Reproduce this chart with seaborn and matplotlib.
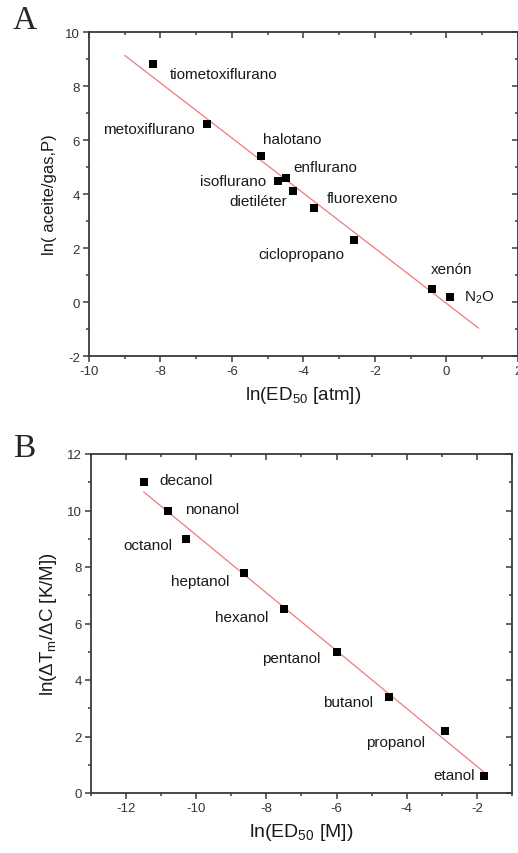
import numpy as np
import pandas as pd
import matplotlib
matplotlib.use("Agg")
import matplotlib.pyplot as plt
import seaborn as sns
from matplotlib.ticker import MultipleLocator

sns.set_theme(style="white")
plt.rcParams['font.family'] = ['Liberation Sans', 'DejaVu Sans']
plt.rcParams['mathtext.fontset'] = 'custom'
plt.rcParams['mathtext.rm'] = 'Liberation Sans'
plt.rcParams['mathtext.it'] = 'Liberation Sans'
plt.rcParams['axes.unicode_minus'] = False

# ---- Panel A data ----
a_names = ["tiometoxiflurano", "metoxiflurano", "halotano", "isoflurano", "enflurano",
           "dietiléter", "fluorexeno", "ciclopropano", "xenón", "N$_2$O"]
a_x = [-8.2, -6.7, -5.2, -4.7, -4.5, -4.3, -3.7, -2.6, -0.4, 0.1]
a_y = [8.8, 6.6, 5.4, 4.5, 4.6, 4.1, 3.5, 2.3, 0.5, 0.2]
a_fit_range = [-9.0, 0.9]
a_label_x = [-7.75, -7.05, -5.14, -5.05, -4.27, -4.47, -3.36, -5.27, -0.45, 0.48]
a_label_y = [8.44, 6.4, 6.05, 4.5, 5.0, 3.73, 3.86, 1.79, 1.23, 0.21]
a_label_ha = ["left", "right", "left", "right", "left", "right", "left", "left", "left", "left"]

# ---- Panel B data ----
b_names = ["decanol", "nonanol", "octanol", "heptanol", "hexanol",
           "pentanol", "butanol", "propanol", "etanol"]
b_x = [-11.5, -10.8, -10.3, -8.65, -7.5, -6.0, -4.5, -2.9, -1.8]
b_y = [11.0, 10.0, 9.0, 7.8, 6.5, 5.0, 3.4, 2.2, 0.6]
b_fit_range = [-11.5, -1.8]
b_label_x = [-11.05, -10.31, -10.69, -9.06, -7.93, -6.47, -4.95, -3.49, -2.05]
b_label_y = [11.08, 10.04, 8.78, 7.52, 6.22, 4.79, 3.21, 1.82, 0.64]
b_label_ha = ["left", "left", "right", "right", "right", "right", "right", "right", "right"]

fig = plt.figure(figsize=(5.18, 8.54), dpi=100)
axA = fig.add_axes([89/518, 1-357/854, 429/518, 324/854])
axB = fig.add_axes([91/518, 1-794/854, 421/518, 339/854])

line_color = '#f07a7a'
spine_color = '#3a3a3a'


def style(ax, xlim, ylim):
    ax.set_xlim(*xlim)
    ax.set_ylim(*ylim)
    ax.xaxis.set_major_locator(MultipleLocator(2))
    ax.xaxis.set_minor_locator(MultipleLocator(1))
    ax.yaxis.set_major_locator(MultipleLocator(2))
    ax.yaxis.set_minor_locator(MultipleLocator(1))
    for s in ax.spines.values():
        s.set_visible(True)
        s.set_color(spine_color)
        s.set_linewidth(1.3)
    ax.tick_params(which='both', bottom=True, left=True, top=False, right=False,
                   direction='out', color=spine_color, width=1.1)
    ax.tick_params(which='major', length=4.5, labelsize=9.5, labelcolor='#333333', pad=2)
    ax.tick_params(which='minor', length=2.5)
    ax2 = ax.secondary_xaxis('top')
    ax2.xaxis.set_major_locator(MultipleLocator(2))
    ax2.xaxis.set_minor_locator(MultipleLocator(1))
    ax2.tick_params(which='both', direction='in', color=spine_color, width=1.1, labeltop=False)
    ax2.tick_params(which='major', length=4.5)
    ax2.tick_params(which='minor', length=2.5)
    ax2.spines['top'].set_visible(False)
    ay2 = ax.secondary_yaxis('right')
    ay2.yaxis.set_major_locator(MultipleLocator(2))
    ay2.yaxis.set_minor_locator(MultipleLocator(1))
    ay2.tick_params(which='both', direction='in', color=spine_color, width=1.1, labelright=False)
    ay2.tick_params(which='major', length=4.5)
    ay2.tick_params(which='minor', length=2.5)
    ay2.spines['right'].set_visible(False)


# Panel A
dfA = pd.DataFrame({"x": a_x, "y": a_y})
kA = np.polyfit(a_x, a_y, 1)
fxA = np.array(a_fit_range)
sns.lineplot(x=fxA, y=np.polyval(kA, fxA), ax=axA, color=line_color, linewidth=0.9)
sns.scatterplot(data=dfA, x="x", y="y", ax=axA, marker='s', s=38, color='black',
                edgecolor='black', linewidth=0, zorder=3)
for nm, tx, ty, ha in zip(a_names, a_label_x, a_label_y, a_label_ha):
    axA.text(tx, ty, nm, ha=ha, va='center', fontsize=11, color='#1a1a1a')
style(axA, (-10, 2), (-2, 10))
axA.set_xlabel("ln(ED$_{50}$ [atm])", fontsize=13.5, color='#1a1a1a', labelpad=5)
axA.set_ylabel("ln( aceite/gas,P)", fontsize=12, color='#1a1a1a', labelpad=6)

# Panel B
dfB = pd.DataFrame({"x": b_x, "y": b_y})
kB = np.polyfit(b_x, b_y, 1)
fxB = np.array(b_fit_range)
sns.lineplot(x=fxB, y=np.polyval(kB, fxB), ax=axB, color=line_color, linewidth=0.9)
sns.scatterplot(data=dfB, x="x", y="y", ax=axB, marker='s', s=38, color='black',
                edgecolor='black', linewidth=0, zorder=3)
for nm, tx, ty, ha in zip(b_names, b_label_x, b_label_y, b_label_ha):
    axB.text(tx, ty, nm, ha=ha, va='center', fontsize=11, color='#1a1a1a')
style(axB, (-13, -1), (0, 12))
axB.set_xlabel("ln(ED$_{50}$ [M])", fontsize=14, color='#1a1a1a', labelpad=5)
axB.set_ylabel("ln(ΔT$_{m}$/ΔC [K/M])", fontsize=13.5, color='#1a1a1a', labelpad=6)

fig.text(13/518, 1-21/854, "A", fontsize=24, family='Liberation Serif', va='center', ha='left')
fig.text(13/518, 1-449/854, "B", fontsize=24, family='Liberation Serif', va='center', ha='left')

fig.savefig("out.png", dpi=100)
